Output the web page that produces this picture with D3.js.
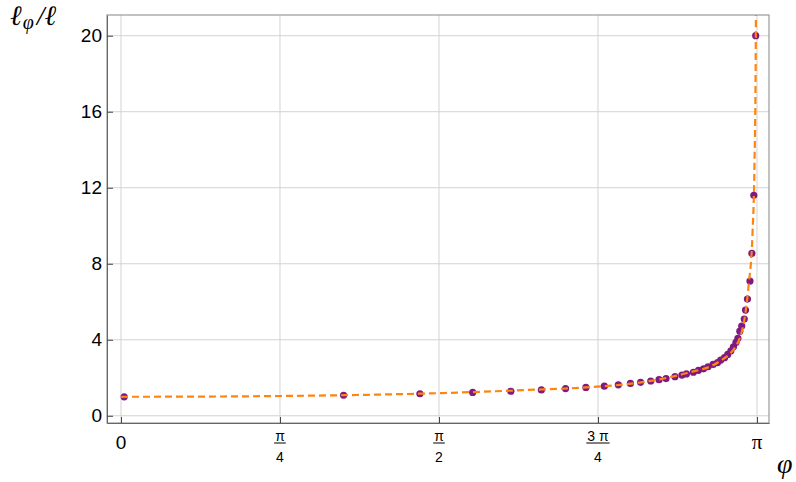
<!DOCTYPE html>
<html><head><meta charset="utf-8">
<script src="https://cdn.jsdelivr.net/npm/d3@7"></script>
<style>body{margin:0;background:#fff}svg{display:block}</style>
</head><body><svg id="c" width="796" height="482"></svg>
<script>
// phi in units of pi, value = l_phi / l
const phiOverPi = [0.005,0.350,0.470,0.553,0.613,0.661,0.699,0.731,0.760,0.782,0.801,0.817,0.833,0.846,0.857,0.871,0.882,0.889,0.900,0.908,0.916,0.923,0.931,0.938,0.943,0.949,0.954,0.959,0.963,0.967,0.970,0.973,0.976,0.980,0.982,0.985,0.989,0.992,0.995,0.998];
const ratio     = [1.00,1.08,1.16,1.23,1.29,1.36,1.43,1.49,1.56,1.63,1.70,1.76,1.83,1.90,1.96,2.06,2.14,2.20,2.29,2.39,2.47,2.58,2.70,2.80,2.93,3.06,3.23,3.42,3.63,3.86,4.08,4.45,4.72,5.09,5.56,6.14,7.09,8.55,11.6,20.0];
// fitted dashed curve
const curvePhi = [0,0.13,0.25,0.38,0.51,0.64,0.73,0.83,0.89,0.94,0.97,0.987,0.993,0.996,0.998,0.9993];
const curveVal = [1,1.01,1.04,1.10,1.20,1.36,1.49,1.82,2.25,2.84,3.86,6.9,9.6,13.1,18.9,30];
const yTicks = [0,4,8,12,16,20];
const xTicks = [{v:0,num:"0",den:null},{v:0.25,num:"π",den:"4"},{v:0.5,num:"π",den:"2"},{v:0.75,num:"3 π",den:"4"},{v:1,num:"π",den:null}];

const svg = d3.select("#c");
const L=107,R=769,T=15,B=423;
const x = d3.scaleLinear().domain([-0.022,1.0189]).range([L,R]);
const y = d3.scaleLinear().domain([-0.38,21.09]).range([B,T]);

svg.append("defs").append("clipPath").attr("id","clip").append("rect")
  .attr("x",L).attr("y",T).attr("width",R-L).attr("height",B-T);

// grid
const g = svg.append("g");
g.selectAll(".gx").data(xTicks).enter().append("line")
  .attr("x1",d=>x(d.v)).attr("x2",d=>x(d.v)).attr("y1",T).attr("y2",B)
  .attr("stroke","#d3d3d3").attr("stroke-width",1);
g.selectAll(".gy").data(yTicks).enter().append("line")
  .attr("y1",d=>y(d)).attr("y2",d=>y(d)).attr("x1",L).attr("x2",R)
  .attr("stroke","#d3d3d3").attr("stroke-width",1);

// frame
svg.append("rect").attr("x",L).attr("y",T).attr("width",R-L).attr("height",B-T)
  .attr("fill","none").attr("stroke","#999").attr("stroke-width",1.2);

// axes via d3
const xAxis = d3.axisBottom(x).tickValues(xTicks.map(d=>d.v)).tickSizeInner(-6).tickSizeOuter(0).tickFormat("");
const ax = svg.append("g").attr("transform",`translate(0,${B})`).call(xAxis);
ax.select(".domain").attr("stroke","#666");
ax.selectAll(".tick line").attr("stroke","#444");
const yAxis = d3.axisLeft(y).tickValues(yTicks).tickSizeInner(-6).tickSizeOuter(0).tickPadding(10);
const ay = svg.append("g").attr("transform",`translate(${L},0)`).call(yAxis);
ay.select(".domain").attr("stroke","#666");
ay.selectAll(".tick line").attr("stroke","#444");
ay.selectAll(".tick text").attr("font-family","Liberation Sans, Arial, sans-serif").attr("font-size",19).attr("fill","#000").attr("x",-5);

// x tick labels
const xl = svg.append("g").attr("font-family","Liberation Sans, Arial, sans-serif").attr("fill","#000");
xTicks.forEach(t=>{
  const cx = x(t.v);
  if(t.den===null){
    xl.append("text").attr("x",cx).attr("y",449).attr("text-anchor","middle")
      .attr("font-size",t.num==="π"?21:19).attr("font-family",t.num==="π"?"Liberation Serif, serif":null).text(t.num);
  } else {
    const n = xl.append("text").attr("x",cx).attr("y",441).attr("text-anchor","middle")
      .attr("font-size",14).text(t.num);
    const w = n.node().getComputedTextLength()+2;
    xl.append("line").attr("x1",cx-w/2).attr("x2",cx+w/2).attr("y1",443).attr("y2",443)
      .attr("stroke","#000").attr("stroke-width",1);
    xl.append("text").attr("x",cx).attr("y",462).attr("text-anchor","middle")
      .attr("font-size",14).text(t.den);
  }
});

// points
const pts = phiOverPi.map((p,i)=>({p:p,v:ratio[i]}));
svg.append("g").attr("clip-path","url(#clip)").selectAll("circle").data(pts).enter().append("circle")
  .attr("cx",d=>x(d.p)).attr("cy",d=>y(d.v)).attr("r",3.6).attr("fill","#7f1a80");

// dashed curve
const cpts = curvePhi.map((p,i)=>({p:p,v:curveVal[i]}));
const line = d3.line().x(d=>x(d.p)).y(d=>y(d.v)).curve(d3.curveMonotoneX);
svg.append("path").attr("clip-path","url(#clip)").datum(cpts).attr("d",line)
  .attr("fill","none").attr("stroke","#ff8410").attr("stroke-width",2.2).attr("stroke-dasharray","7,4");

// axis labels
const yl = svg.append("text").attr("x",10).attr("y",25).attr("font-family","Liberation Serif, serif")
  .attr("font-style","italic").attr("font-size",28).attr("fill","#000");
yl.append("tspan").text("ℓ");
yl.append("tspan").attr("font-size",20).attr("dy",4).attr("dx",1).text("φ");
yl.append("tspan").attr("dy",-4).attr("dx",3).text("/ℓ");
svg.append("text").attr("x",777).attr("y",473).attr("font-family","Liberation Serif, serif")
  .attr("font-style","italic").attr("font-size",28).attr("fill","#000").text("φ");
</script></body></html>
